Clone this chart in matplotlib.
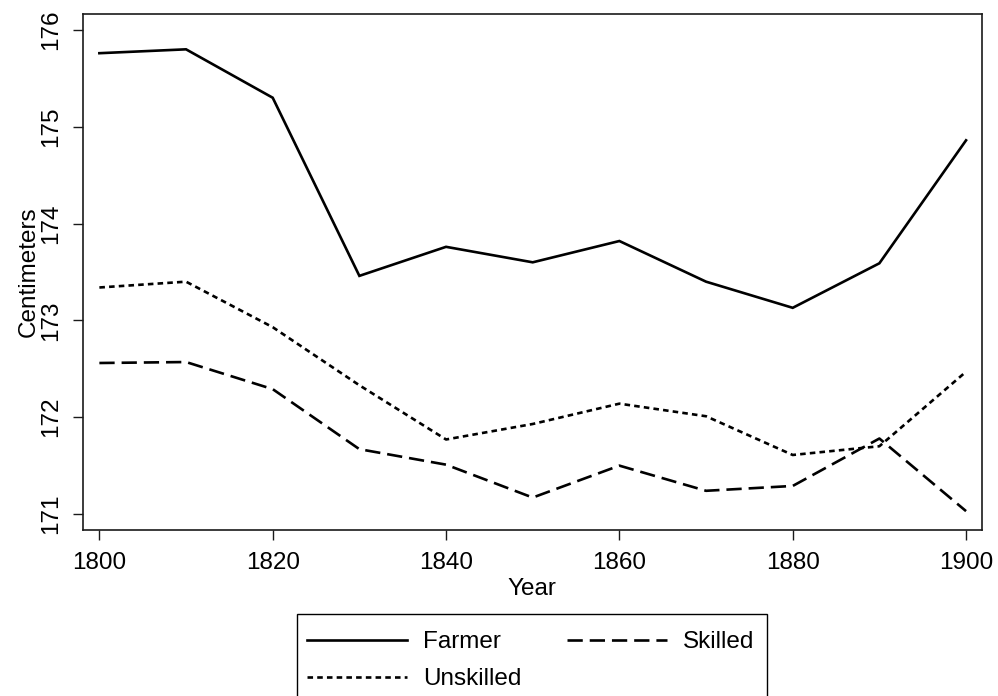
import matplotlib
matplotlib.use("Agg")
import matplotlib.pyplot as plt
from matplotlib.patches import Rectangle

plt.rcParams['font.family'] = ['Liberation Sans', 'DejaVu Sans']
plt.rcParams['lines.scale_dashes'] = False

years = [1800, 1810, 1820, 1830, 1840, 1850, 1860, 1870, 1880, 1890, 1900]
farmer = [175.76, 175.80, 175.30, 173.46, 173.76, 173.60, 173.82, 173.40, 173.13, 173.59, 174.86]
skilled = [172.56, 172.57, 172.29, 171.67, 171.51, 171.17, 171.50, 171.24, 171.29, 171.78, 171.03]
unskilled = [173.34, 173.40, 172.93, 172.33, 171.77, 171.93, 172.14, 172.01, 171.61, 171.70, 172.47]

xticks = [1800, 1820, 1840, 1860, 1880, 1900]
yticks = [171, 172, 173, 174, 175, 176]

fs = 17.5
W, H = 998, 696
fig = plt.figure(figsize=(W / 100, H / 100), dpi=100)
ax = fig.add_axes([0.0829, 0.2385, 0.9837 - 0.0829, 0.9799 - 0.2385])

lw = 1.9
l1, = ax.plot(years, farmer, color='black', lw=lw, label='Farmer', solid_joinstyle='miter')
l3, = ax.plot(years, unskilled, color='black', lw=lw, label='Unskilled', dashes=(4.0, 3.0))
l2, = ax.plot(years, skilled, color='black', lw=lw, label='Skilled', dashes=(11, 5))

ax.set_xlim(1798.08, 1901.81)
ax.set_ylim(170.835, 176.165)
ax.set_xticks(xticks)
ax.set_xticklabels([str(t) for t in xticks])
ax.set_yticks(yticks)
ax.set_yticklabels([str(t) for t in yticks], rotation=90, va='center')

for s in ax.spines.values():
    s.set_linewidth(1.2)
    s.set_color('#1a1a1a')
ax.tick_params(axis='both', labelsize=fs, length=7, width=1.0, color='#1a1a1a')
ax.tick_params(axis='x', pad=9)
ax.tick_params(axis='y', pad=8)

ax.set_xlabel('Year', fontsize=fs, labelpad=3)
ax.set_ylabel('Centimeters', fontsize=fs, labelpad=0)

# legend frame (extends past the bottom edge, as in the reference)
fig.patches.append(Rectangle((297 / W, -0.02), (767 - 297) / W, 1 - 614 / H + 0.02,
                             transform=fig.transFigure, fill=False,
                             edgecolor='black', linewidth=1.0))
leg = fig.legend(handles=[l1, l3, l2], ncol=2, loc='upper left',
                 bbox_to_anchor=(307 / W, 1 - 631 / H), fontsize=fs,
                 frameon=False,
                 handlelength=4.1, handletextpad=0.66, columnspacing=1.9,
                 borderpad=0, labelspacing=0.62, borderaxespad=0)

fig.savefig('out.png', dpi=100)
